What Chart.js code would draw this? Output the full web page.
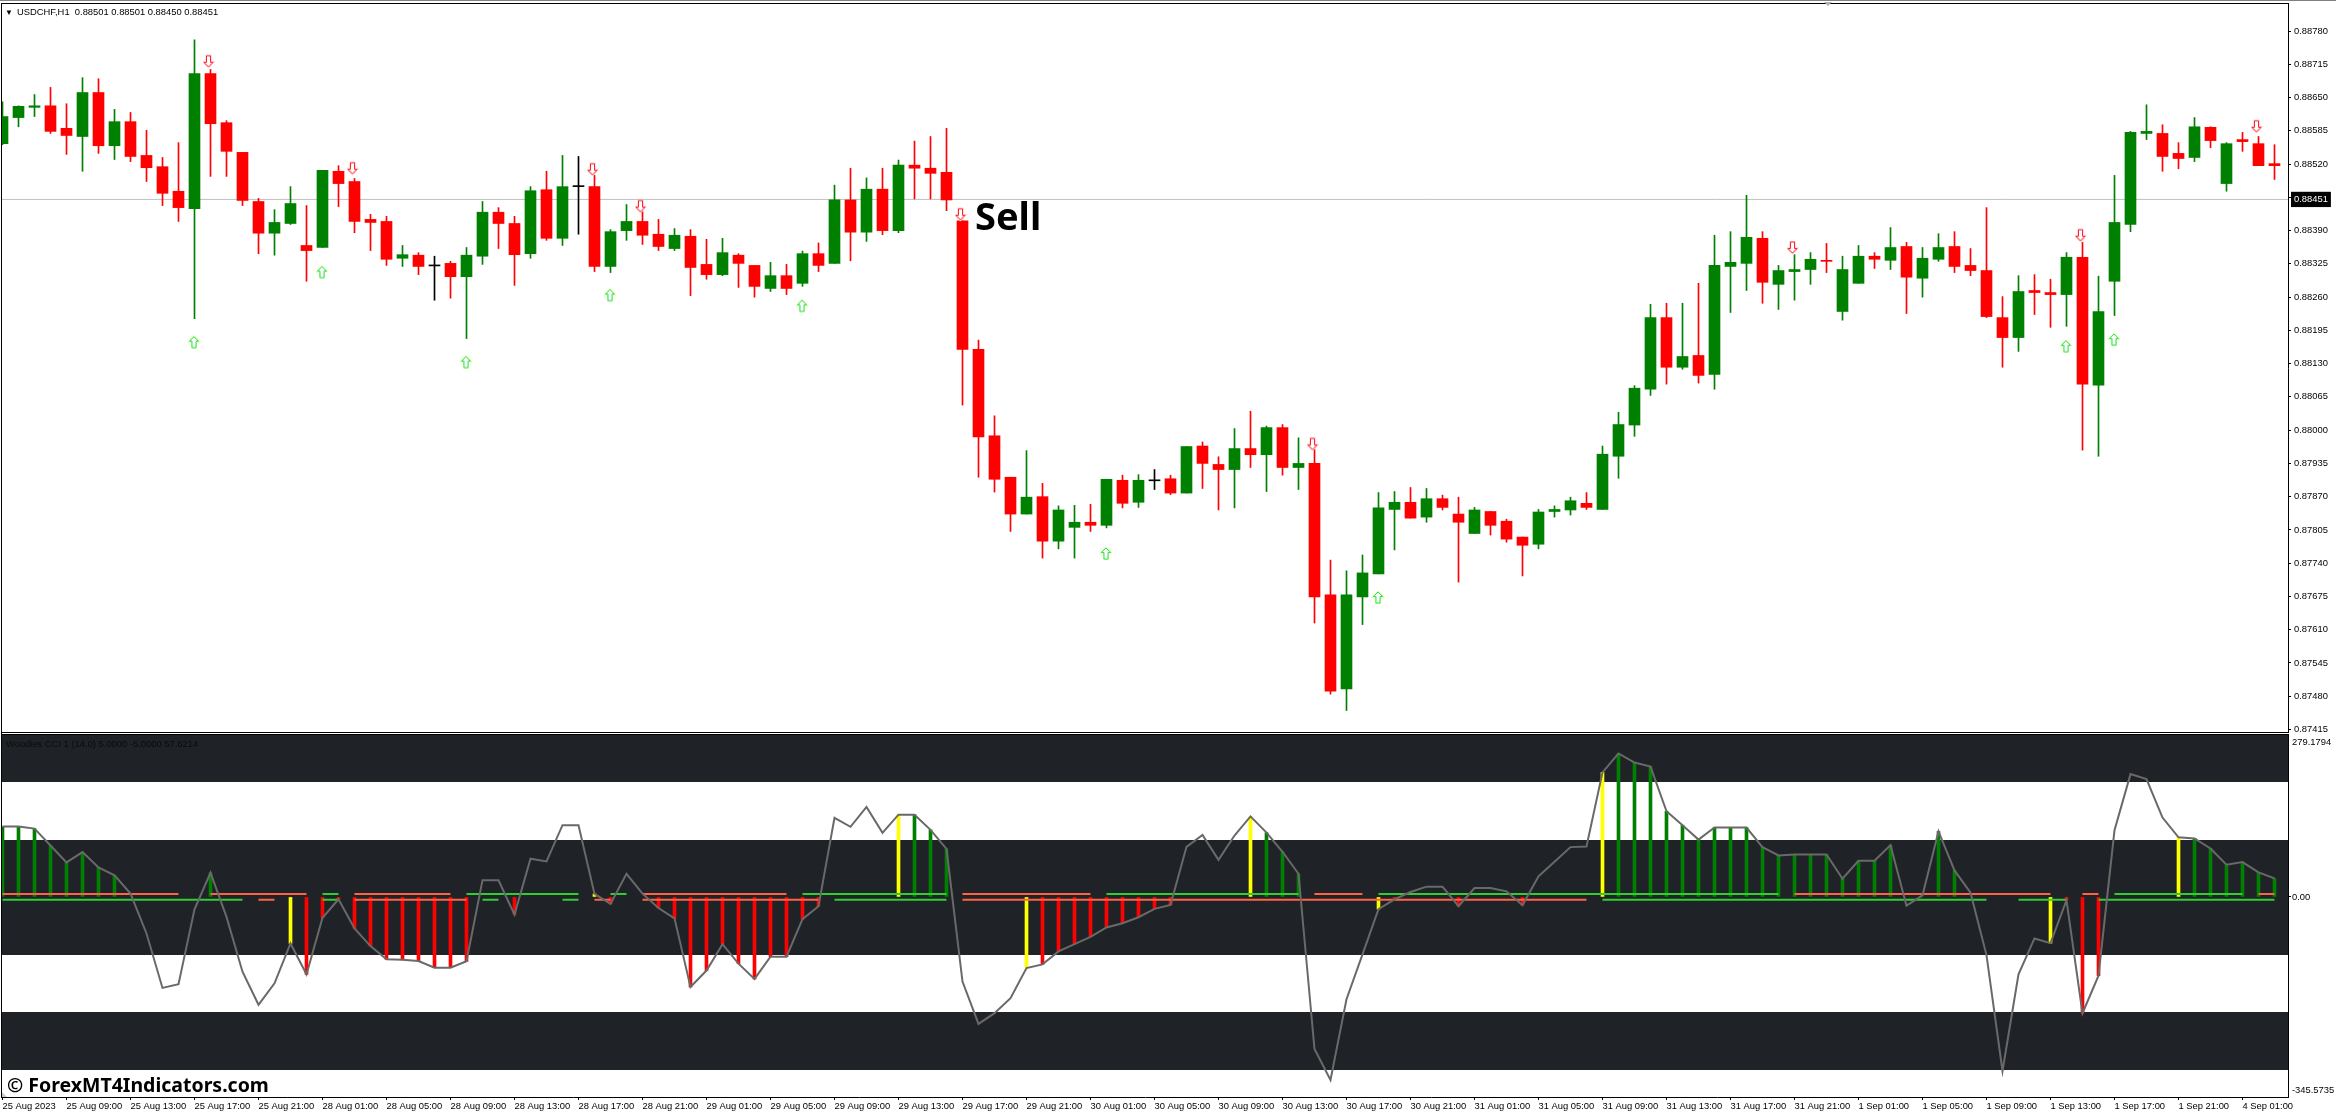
<!DOCTYPE html>
<html>
<head>
<meta charset="utf-8">
<title>USDCHF H1 Woodies CCI</title>
<script src="https://cdn.jsdelivr.net/npm/chart.js@4"></script>
<style>
    html, body { margin: 0; padding: 0; background: #fff; width: 2336px; height: 1116px; overflow: hidden; }
    canvas { position: absolute; left: 0; }
    .rule { position: absolute; background: #000; }
    .txt { position: absolute; white-space: pre; color: #000; font-family: "Liberation Sans", sans-serif; }
</style>
</head>
<body>
<canvas id="price" width="2336" height="734" style="top:0"></canvas>
<canvas id="cci" width="2336" height="382" style="top:734px"></canvas>

<div class="rule" style="left:0;top:0;width:2336px;height:1px;background:#808080"></div>
<div class="rule" style="left:1px;top:3px;width:2288px;height:1px"></div>
<div class="rule" style="left:1px;top:3px;width:1px;height:1095px"></div>
<div class="rule" style="left:1px;top:732px;width:2288px;height:1px"></div>
<div class="rule" style="left:1px;top:734px;width:2288px;height:1px"></div>
<div style="position:absolute;left:1824px;top:2px;border:4px solid transparent;border-top:4px solid #b0b0b0;"></div>
<div style="position:absolute;left:2px;top:1092px;border-left:5px solid #c8c8c8;border-top:5px solid transparent;"></div>

<div class="txt" style="left:5px;top:8px;font-size:8px">▼</div>
<div class="txt" style="left:17px;top:6px;font-size:9.4px">USDCHF,H1  0.88501 0.88501 0.88450 0.88451</div>
<div class="txt" style="left:6px;top:738px;font-size:9.4px;color:#0a0a0a">Woodies CCI 1 (14.0) 5.0000 -5.0000 57.6214</div>
<div class="txt" style="left:975px;top:189px;font:bold 38px 'Noto Sans'">Sell</div>
<div class="txt" style="left:7px;top:1071px;font:bold 19.5px 'Noto Sans'">© ForexMT4Indicators.com</div>

<script>
// candles, one value per hourly bar
const opens = [
    0.88560, 0.88611, 0.88631, 0.88634, 0.88590, 0.88574, 0.88660, 0.88556, 0.88603, 0.88537,
    0.88515, 0.88467, 0.88433, 0.88697, 0.88601, 0.88543, 0.88447, 0.88385, 0.88404, 0.88361,
    0.88357, 0.88506, 0.88486, 0.88412, 0.88408, 0.88336, 0.88342, 0.88321, 0.88326, 0.88300,
    0.88340, 0.88426, 0.88404, 0.88345, 0.88470, 0.88375, 0.88476, 0.88476, 0.88320, 0.88390,
    0.88408, 0.88383, 0.88355, 0.88379, 0.88324, 0.88304, 0.88342, 0.88322, 0.88277, 0.88302,
    0.88287, 0.88345, 0.88326, 0.88450, 0.88387, 0.88471, 0.88390, 0.88518, 0.88512, 0.88504,
    0.88409, 0.88158, 0.87989, 0.87908, 0.87836, 0.87870, 0.87783, 0.87810, 0.87820, 0.87814,
    0.87902, 0.87859, 0.87901, 0.87905, 0.87877, 0.87969, 0.87933, 0.87923, 0.87964, 0.87952,
    0.88005, 0.87927, 0.87935, 0.87678, 0.87494, 0.87674, 0.87719, 0.87845, 0.87859, 0.87830,
    0.87866, 0.87836, 0.87798, 0.87841, 0.87822, 0.87791, 0.87777, 0.87841, 0.87844, 0.87857,
    0.87845, 0.87949, 0.88010, 0.88080, 0.88220, 0.88123, 0.88146, 0.88109, 0.88320, 0.88326,
    0.88375, 0.88285, 0.88310, 0.88314, 0.88332, 0.88232, 0.88287, 0.88340, 0.88332, 0.88359,
    0.88297, 0.88334, 0.88359, 0.88322, 0.88312, 0.88220, 0.88181, 0.88273, 0.88269, 0.88265,
    0.88338, 0.88088, 0.88291, 0.88402, 0.88580, 0.88580, 0.88541, 0.88533, 0.88592, 0.88482,
    0.88568, 0.88560, 0.88521
];
const highs = [
    0.88642, 0.88634, 0.88656, 0.88670, 0.88638, 0.88689, 0.88687, 0.88627, 0.88621, 0.88586,
    0.88533, 0.88562, 0.88763, 0.88705, 0.88605, 0.88543, 0.88453, 0.88431, 0.88476, 0.88439,
    0.88508, 0.88517, 0.88492, 0.88422, 0.88418, 0.88361, 0.88347, 0.88340, 0.88330, 0.88357,
    0.88447, 0.88435, 0.88418, 0.88476, 0.88506, 0.88537, 0.88535, 0.88498, 0.88392, 0.88441,
    0.88427, 0.88412, 0.88394, 0.88392, 0.88373, 0.88375, 0.88345, 0.88322, 0.88328, 0.88324,
    0.88350, 0.88366, 0.88479, 0.88512, 0.88493, 0.88512, 0.88528, 0.88565, 0.88574, 0.88590,
    0.88409, 0.88176, 0.88028, 0.87908, 0.87960, 0.87896, 0.87852, 0.87853, 0.87855, 0.87904,
    0.87912, 0.87913, 0.87923, 0.87912, 0.87968, 0.87977, 0.87948, 0.88003, 0.88037, 0.88008,
    0.88011, 0.87985, 0.87962, 0.87746, 0.87725, 0.87756, 0.87878, 0.87880, 0.87888, 0.87886,
    0.87873, 0.87869, 0.87849, 0.87841, 0.87826, 0.87791, 0.87845, 0.87852, 0.87869, 0.87878,
    0.87969, 0.88035, 0.88087, 0.88246, 0.88248, 0.88248, 0.88287, 0.88381, 0.88388, 0.88459,
    0.88388, 0.88322, 0.88343, 0.88347, 0.88365, 0.88340, 0.88361, 0.88347, 0.88396, 0.88367,
    0.88357, 0.88384, 0.88388, 0.88355, 0.88435, 0.88261, 0.88302, 0.88304, 0.88295, 0.88347,
    0.88367, 0.88301, 0.88498, 0.88584, 0.88636, 0.88597, 0.88562, 0.88611, 0.88593, 0.88562,
    0.88582, 0.88574, 0.88558
];
const lows = [
    0.88558, 0.88593, 0.88613, 0.88580, 0.88539, 0.88506, 0.88541, 0.88529, 0.88525, 0.88486,
    0.88439, 0.88408, 0.88218, 0.88496, 0.88496, 0.88439, 0.88345, 0.88342, 0.88402, 0.88291,
    0.88357, 0.88437, 0.88386, 0.88351, 0.88322, 0.88320, 0.88304, 0.88254, 0.88258, 0.88179,
    0.88324, 0.88355, 0.88283, 0.88336, 0.88371, 0.88361, 0.88383, 0.88310, 0.88308, 0.88371,
    0.88363, 0.88351, 0.88351, 0.88263, 0.88295, 0.88302, 0.88279, 0.88260, 0.88271, 0.88265,
    0.88281, 0.88310, 0.88326, 0.88331, 0.88369, 0.88382, 0.88386, 0.88452, 0.88452, 0.88429,
    0.88049, 0.87908, 0.87879, 0.87802, 0.87836, 0.87750, 0.87768, 0.87750, 0.87802, 0.87809,
    0.87848, 0.87849, 0.87884, 0.87874, 0.87877, 0.87886, 0.87844, 0.87848, 0.87927, 0.87880,
    0.87912, 0.87884, 0.87623, 0.87484, 0.87452, 0.87620, 0.87719, 0.87766, 0.87828, 0.87820,
    0.87844, 0.87703, 0.87798, 0.87795, 0.87781, 0.87715, 0.87768, 0.87830, 0.87834, 0.87845,
    0.87845, 0.87906, 0.87988, 0.88068, 0.88090, 0.88119, 0.88092, 0.88080, 0.88230, 0.88273,
    0.88248, 0.88236, 0.88254, 0.88285, 0.88308, 0.88215, 0.88287, 0.88316, 0.88314, 0.88228,
    0.88260, 0.88330, 0.88308, 0.88302, 0.88220, 0.88123, 0.88154, 0.88226, 0.88201, 0.88203,
    0.87961, 0.87949, 0.88224, 0.88388, 0.88568, 0.88506, 0.88511, 0.88525, 0.88552, 0.88467,
    0.88545, 0.88517, 0.88490
];
const closes = [
    0.88613, 0.88633, 0.88634, 0.88584, 0.88576, 0.88660, 0.88556, 0.88603, 0.88535, 0.88513,
    0.88463, 0.88435, 0.88697, 0.88599, 0.88545, 0.88449, 0.88385, 0.88406, 0.88443, 0.88351,
    0.88508, 0.88482, 0.88408, 0.88406, 0.88334, 0.88343, 0.88320, 0.88321, 0.88300, 0.88342,
    0.88426, 0.88404, 0.88343, 0.88468, 0.88375, 0.88476, 0.88476, 0.88320, 0.88388, 0.88408,
    0.88381, 0.88359, 0.88381, 0.88318, 0.88304, 0.88347, 0.88326, 0.88281, 0.88302, 0.88277,
    0.88345, 0.88322, 0.88450, 0.88387, 0.88471, 0.88390, 0.88518, 0.88512, 0.88502, 0.88450,
    0.88158, 0.87987, 0.87904, 0.87836, 0.87869, 0.87783, 0.87844, 0.87820, 0.87814, 0.87904,
    0.87857, 0.87902, 0.87901, 0.87877, 0.87968, 0.87935, 0.87923, 0.87964, 0.87952, 0.88005,
    0.87927, 0.87935, 0.87674, 0.87490, 0.87678, 0.87721, 0.87848, 0.87859, 0.87828, 0.87866,
    0.87849, 0.87820, 0.87844, 0.87814, 0.87787, 0.87775, 0.87840, 0.87845, 0.87862, 0.87849,
    0.87953, 0.88011, 0.88082, 0.88220, 0.88123, 0.88144, 0.88107, 0.88322, 0.88328, 0.88377,
    0.88289, 0.88312, 0.88314, 0.88334, 0.88330, 0.88314, 0.88340, 0.88334, 0.88357, 0.88299,
    0.88336, 0.88357, 0.88320, 0.88312, 0.88222, 0.88181, 0.88271, 0.88269, 0.88265, 0.88338,
    0.88090, 0.88232, 0.88406, 0.88582, 0.88584, 0.88535, 0.88531, 0.88593, 0.88566, 0.88560,
    0.88564, 0.88517, 0.88517
];

// signal arrows: bar number and price
const upArrowBars = [12, 20, 29, 38, 50, 69, 86, 129, 132];
const upArrowPrices = [0.88172, 0.88309, 0.88133, 0.88264, 0.88243, 0.87759, 0.87673, 0.88164, 0.88177];
const downArrowBars = [13, 22, 37, 40, 60, 82, 112, 130, 141];
const downArrowPrices = [0.88721, 0.88512, 0.88510, 0.88438, 0.88422, 0.87973, 0.88357, 0.88381, 0.88594];

const bidPrice = 0.88451;
const priceTicks = [
    0.88780, 0.88715, 0.88650, 0.88585, 0.88520, 0.88455, 0.88451, 0.88390, 0.88325, 0.88260, 0.88195,
    0.88130, 0.88065, 0.88000, 0.87935, 0.87870, 0.87805, 0.87740, 0.87675, 0.87610, 0.87545, 0.87480, 0.87415
];

// Woodies CCI pane
const cciValues = [
    121.5, 121.5, 118, 88.8, 59.6, 77.4, 51, 37.2, 5.7, -63,
    -157, -150.7, -21.2, 41.8, -34.4, -129, -186, -149, -80.2, -133.5,
    -36, -4, -54.4, -84.8, -107.7, -108.3, -110.6, -122, -122, -111,
    28.7, 28.7, -30.4, 66, 61.3, 123.8, 123.8, 5.2, -12, 40,
    5.7, -19, -37, -155.3, -127, -81.4, -115, -141.5, -103, -103,
    -38.4, -16, 136.4, 121, 155.3, 110.6, 142, 142, 115.8, 83,
    -146, -219, -200.6, -174.8, -122.6, -116.3, -94, -81.4, -68.8, -52.7,
    -45.3, -35, -20.6, -13.8, 86.5, 107, 64, 106, 139, 111,
    78, 40, -262.5, -315.8, -176.5, -99, -21, -4, 8.6, 17.8,
    17.8, -16, 15.5, 15.5, 9.7, -14.3, 35.5, 60.7, 86, 87,
    215, 247.6, 232, 225, 147.9, 123.8, 99, 119.8, 119.8, 119.8,
    86, 71.6, 73.4, 73.4, 73.4, 31.5, 62.5, 62.5, 89.4, -15,
    2.9, 113, 45.8, 7.4, -100.3, -300.3, -133.5, -71.6, -79.7, -5.7,
    -200.6, -135.8, 115, 212, 203.4, 137, 103, 100.9, 83.7, 55.6,
    60.2, 42.4, 32
];
// one letter per bar: g green, r red, y yellow, dot nothing drawn
const histColours = (
    "gggggggg.....g....yrrrrrrrrrrr..r....yr..rrrrrrrrrrr....yggg....y" +
    "rrrrrrrrr....yggg....yr...r...r....y" +
    "gggggggggggggggggg..gg.....yrrr....ygggggg"
).split("");
const upperLevel = 5;
const lowerLevel = -5;
const upperColours = (
    "rrrrrrrrrrrr.rrrrrrrggrrrrrrrgggggggg.ggrrrrrrrrrrgggggggggg" +
    "rrrrrrrrrgggggggggggggrrrrgggggggggggggggggggggggggg" +
    "rrrrrrrrrrrrrrrrr.rrgggggggggrr"
).split("");
const lowerColours = (
    "ggggggggggggggggrr..ggrrrrrrrrgg...ggrr.rrrrrrrrrrrrgggggggg" +
    "rrrrrrrrrrrrrrrrrrrrrrrrrrrrrrrrrrrrrrrr" +
    "ggggggggggggggggggggggggg.gggg.gggggggggggg"
).split("");
const cciBands = [[281.2, 199], [99, -101], [-198, -299]];
const cciTickValues = [266.5, 0, -334];
const cciTickLabels = ["279.1794", "0.00", "-345.5735"];

// time axis, one label every 4 bars
const timeLabelEvery = 4;
const timeLabels = [
    "25 Aug 2023", "25 Aug 09:00", "25 Aug 13:00", "25 Aug 17:00", "25 Aug 21:00",
    "28 Aug 01:00", "28 Aug 05:00", "28 Aug 09:00", "28 Aug 13:00", "28 Aug 17:00", "28 Aug 21:00",
    "29 Aug 01:00", "29 Aug 05:00", "29 Aug 09:00", "29 Aug 13:00", "29 Aug 17:00", "29 Aug 21:00",
    "30 Aug 01:00", "30 Aug 05:00", "30 Aug 09:00", "30 Aug 13:00", "30 Aug 17:00", "30 Aug 21:00",
    "31 Aug 01:00", "31 Aug 05:00", "31 Aug 09:00", "31 Aug 13:00", "31 Aug 17:00", "31 Aug 21:00",
    "1 Sep 01:00", "1 Sep 05:00", "1 Sep 09:00", "1 Sep 13:00", "1 Sep 17:00", "1 Sep 21:00",
    "4 Sep 01:00"
];

const GREEN = "#008000";
const RED = "#ff0000";
const axisFont = { family: "Liberation Sans", size: 9.4 };
// 16 px per bar, first bar centred 2.5 px from the page edge
const xMin = -0.03125;
const xMax = 142.84375;

function candleColour(i) {
    if (closes[i] > opens[i]) return GREEN;
    if (closes[i] < opens[i]) return RED;
    return "#000";
}

// hollow arrow used for the signals, shift moves it off the bar centre
function arrowImage(up, stroke, halo, shift) {
    const c = document.createElement("canvas");
    c.width = 15;
    c.height = 15;
    const g = c.getContext("2d");
    g.translate(7.5 + shift, 7.5);
    if (!up) g.scale(1, -1);
    g.beginPath();
    g.moveTo(0, -5.5);
    g.lineTo(4.5, -1);
    g.lineTo(2, -1);
    g.lineTo(2, 5.5);
    g.lineTo(-2, 5.5);
    g.lineTo(-2, -1);
    g.lineTo(-4.5, -1);
    g.closePath();
    g.lineWidth = 2;
    g.strokeStyle = halo;
    g.stroke();
    g.fillStyle = "#fff";
    g.fill();
    g.lineWidth = 1;
    g.strokeStyle = stroke;
    g.stroke();
    return c;
}

// the layout must not add room for tick labels, the panes have fixed places
function noPadding(scale) {
    scale.paddingLeft = 0;
    scale.paddingRight = 0;
    scale.paddingTop = 0;
    scale.paddingBottom = 0;
}

function fixedWidth(scale) {
    scale.width = 48;
    noPadding(scale);
}

const candleBars = opens.map((o, i) => i);

new Chart(document.getElementById("price"), {
    data: {
        datasets: [
            {
                type: "line", showLine: false, pointRadius: 7,
                pointStyle: arrowImage(true, "#2fe05a", "#d8ff90", -0.5),
                data: upArrowBars.map((b, i) => ({ x: b, y: upArrowPrices[i] }))
            },
            {
                type: "line", showLine: false, pointRadius: 7,
                pointStyle: arrowImage(false, "#ff2030", "#ffc4c4", -2),
                data: downArrowBars.map((b, i) => ({ x: b, y: downArrowPrices[i] }))
            },
            {
                type: "bar", grouped: false, barThickness: 11, minBarLength: 1, borderWidth: 0,
                backgroundColor: candleBars.map(candleColour),
                data: candleBars.map(i => ({ x: i, y: [opens[i], closes[i]] }))
            },
            {
                type: "bar", grouped: false, barThickness: 1, borderWidth: 0,
                backgroundColor: candleBars.map(candleColour),
                data: candleBars.map(i => ({ x: i, y: [lows[i], highs[i]] }))
            },
            {
                type: "line", borderColor: "#c0c0c0", borderWidth: 1, pointRadius: 0,
                data: [{ x: xMin, y: bidPrice }, { x: xMax, y: bidPrice }]
            }
        ]
    },
    options: {
        responsive: false,
        devicePixelRatio: 1,
        animation: false,
        layout: { autoPadding: false, padding: { left: 2, top: 4, bottom: 2, right: 0 } },
        plugins: { legend: { display: false }, tooltip: { enabled: false } },
        scales: {
            x: {
                type: "linear", min: xMin, max: xMax, offset: false,
                ticks: { display: false },
                grid: { display: false },
                border: { display: false },
                afterFit: (s) => { s.height = 0; noPadding(s); }
            },
            y: {
                position: "right",
                min: 0.87410,
                max: 0.88833,
                afterFit: fixedWidth,
                afterBuildTicks: (s) => { s.ticks = priceTicks.map(v => ({ value: v })); },
                grid: {
                    drawOnChartArea: false, tickLength: 3,
                    tickColor: (c) => (c.tick && c.tick.value === bidPrice ? "transparent" : "#000")
                },
                border: { color: "#000" },
                ticks: {
                    autoSkip: false, padding: 3, font: axisFont,
                    color: (c) => (c.tick.value === bidPrice ? "#fff" : "#000"),
                    showLabelBackdrop: (c) => c.tick.value === bidPrice,
                    backdropColor: "#000",
                    backdropPadding: { left: 3, right: 3, top: 2, bottom: 2 },
                    callback: (v) => v.toFixed(5)
                }
            }
        }
    }
});

// dark CCI zones behind the lines
const bandPlugin = {
    id: "bands",
    beforeDatasetsDraw(chart) {
        const y = chart.scales.y;
        const area = chart.chartArea;
        const g = chart.ctx;
        g.save();
        g.fillStyle = "#1f2327";
        cciBands.forEach((b) => {
            const top = Math.round(y.getPixelForValue(b[0]));
            const bottom = Math.round(y.getPixelForValue(b[1]));
            g.fillRect(area.left, top, area.right - area.left, bottom - top);
        });
        g.restore();
    }
};

function levelLine(codes, code, level, colour) {
    return {
        type: "line", borderColor: colour, borderWidth: 2, pointRadius: 0, spanGaps: false,
        data: codes.map((c, i) => ({ x: i, y: c === code ? level : null }))
    };
}

const histBars = candleBars.filter(i => histColours[i] !== ".");
const histPalette = { g: GREEN, r: RED, y: "#ffff00" };

new Chart(document.getElementById("cci"), {
    data: {
        datasets: [
            {
                type: "line", borderColor: "#696969", borderWidth: 2, pointRadius: 0,
                data: cciValues.map((v, i) => ({ x: i, y: v }))
            },
            levelLine(upperColours, "r", upperLevel, "#ff6347"),
            levelLine(upperColours, "g", upperLevel, "#32cd32"),
            levelLine(lowerColours, "r", lowerLevel, "#ff6347"),
            levelLine(lowerColours, "g", lowerLevel, "#32cd32"),
            {
                type: "bar", grouped: false, barThickness: 3, borderWidth: 0,
                backgroundColor: histBars.map(i => histPalette[histColours[i]]),
                data: histBars.map(i => ({ x: i, y: [0, cciValues[i]] }))
            }
        ]
    },
    options: {
        responsive: false,
        devicePixelRatio: 1,
        animation: false,
        layout: { autoPadding: false, padding: { left: 2, top: 0, bottom: 0, right: 0 } },
        plugins: { legend: { display: false }, tooltip: { enabled: false } },
        scales: {
            x: {
                type: "linear", min: xMin, max: xMax, offset: false,
                afterFit: (s) => { s.height = 19; noPadding(s); },
                afterBuildTicks: (s) => { s.ticks = timeLabels.map((t, i) => ({ value: i * timeLabelEvery })); },
                grid: { drawOnChartArea: false, tickLength: 3, tickColor: "#000", offset: false },
                border: { color: "#000" },
                ticks: {
                    autoSkip: false, maxRotation: 0, minRotation: 0, align: "start", padding: 1,
                    font: axisFont, color: "#000",
                    callback: (v, i) => timeLabels[i]
                }
            },
            y: {
                position: "right",
                min: -345.2,
                max: 281.2,
                afterFit: fixedWidth,
                afterBuildTicks: (s) => { s.ticks = cciTickValues.map(v => ({ value: v })); },
                grid: {
                    drawOnChartArea: false, tickLength: 3,
                    tickColor: (c) => (c.tick && c.tick.value === 0 ? "#000" : "transparent")
                },
                border: { color: "#000" },
                ticks: {
                    autoSkip: false, padding: 1, font: axisFont, color: "#000",
                    callback: (v, i) => cciTickLabels[i]
                }
            }
        }
    },
    plugins: [bandPlugin]
});
</script>
</body>
</html>
